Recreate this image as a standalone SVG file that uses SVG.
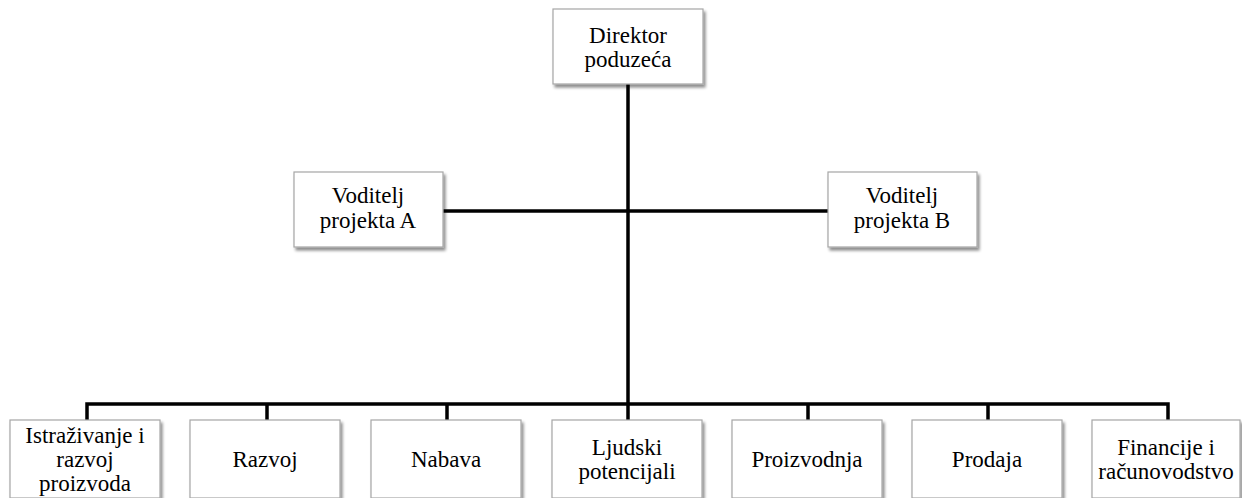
<svg xmlns="http://www.w3.org/2000/svg" width="1242" height="498" viewBox="0 0 1242 498">
<defs>
<filter id="sh" x="-10%" y="-10%" width="130%" height="140%">
<feGaussianBlur in="SourceAlpha" stdDeviation="1.5"/>
<feOffset dx="2" dy="3" result="b"/>
<feComponentTransfer><feFuncA type="linear" slope="0.45"/></feComponentTransfer>
<feMerge><feMergeNode/><feMergeNode in="SourceGraphic"/></feMerge>
</filter>
</defs>
<style>
.box{fill:#ffffff;stroke:#a6a6a6;stroke-width:1.2;filter:url(#sh)}
.c{stroke:#000;stroke-width:3.5;fill:none}
</style>
<rect width="1242" height="498" fill="#ffffff"/>
<g id="connectors">
<line class="c" x1="628" y1="84" x2="628" y2="404"/>
<line class="c" x1="443" y1="211" x2="828" y2="211"/>
<polyline class="c" points="87,420 87,404 1168,404 1168,420"/>
<line class="c" x1="267" y1="404" x2="267" y2="420"/>
<line class="c" x1="447" y1="404" x2="447" y2="420"/>
<line class="c" x1="628" y1="404" x2="628" y2="420"/>
<line class="c" x1="808" y1="404" x2="808" y2="420"/>
<line class="c" x1="988" y1="404" x2="988" y2="420"/>
</g>
<g font-family="'Liberation Serif', 'DejaVu Serif', 'Times New Roman', serif" font-size="23" fill="#000" text-anchor="middle">
<g id="direktor"><rect class="box" x="553" y="9" width="150" height="75"/>
<text x="628" y="43">Direktor</text><text x="628" y="67">poduzeća</text></g>
<g id="voditeljA"><rect class="box" x="294" y="172" width="149" height="75"/>
<text x="368" y="203">Voditelj</text><text x="368" y="228">projekta A</text></g>
<g id="voditeljB"><rect class="box" x="828" y="172" width="149" height="75"/>
<text x="902" y="203">Voditelj</text><text x="902" y="228">projekta B</text></g>
<g id="istrazivanje"><rect class="box" x="10" y="420" width="150" height="78"/>
<text x="85" y="443">Istraživanje i</text><text x="85" y="467">razvoj</text><text x="85" y="491">proizvoda</text></g>
<g id="razvoj"><rect class="box" x="190" y="420" width="150" height="78"/>
<text x="265" y="467">Razvoj</text></g>
<g id="nabava"><rect class="box" x="371" y="420" width="150" height="78"/>
<text x="446" y="467">Nabava</text></g>
<g id="ljudski"><rect class="box" x="552" y="420" width="150" height="78"/>
<text x="627" y="455">Ljudski</text><text x="627" y="479">potencijali</text></g>
<g id="proizvodnja"><rect class="box" x="732" y="420" width="150" height="78"/>
<text x="807" y="467">Proizvodnja</text></g>
<g id="prodaja"><rect class="box" x="912" y="420" width="150" height="78"/>
<text x="987" y="467">Prodaja</text></g>
<g id="financije"><rect class="box" x="1092" y="420" width="148" height="78"/>
<text x="1166" y="455">Financije i</text><text x="1166" y="479">računovodstvo</text></g>
</g>
</svg>
